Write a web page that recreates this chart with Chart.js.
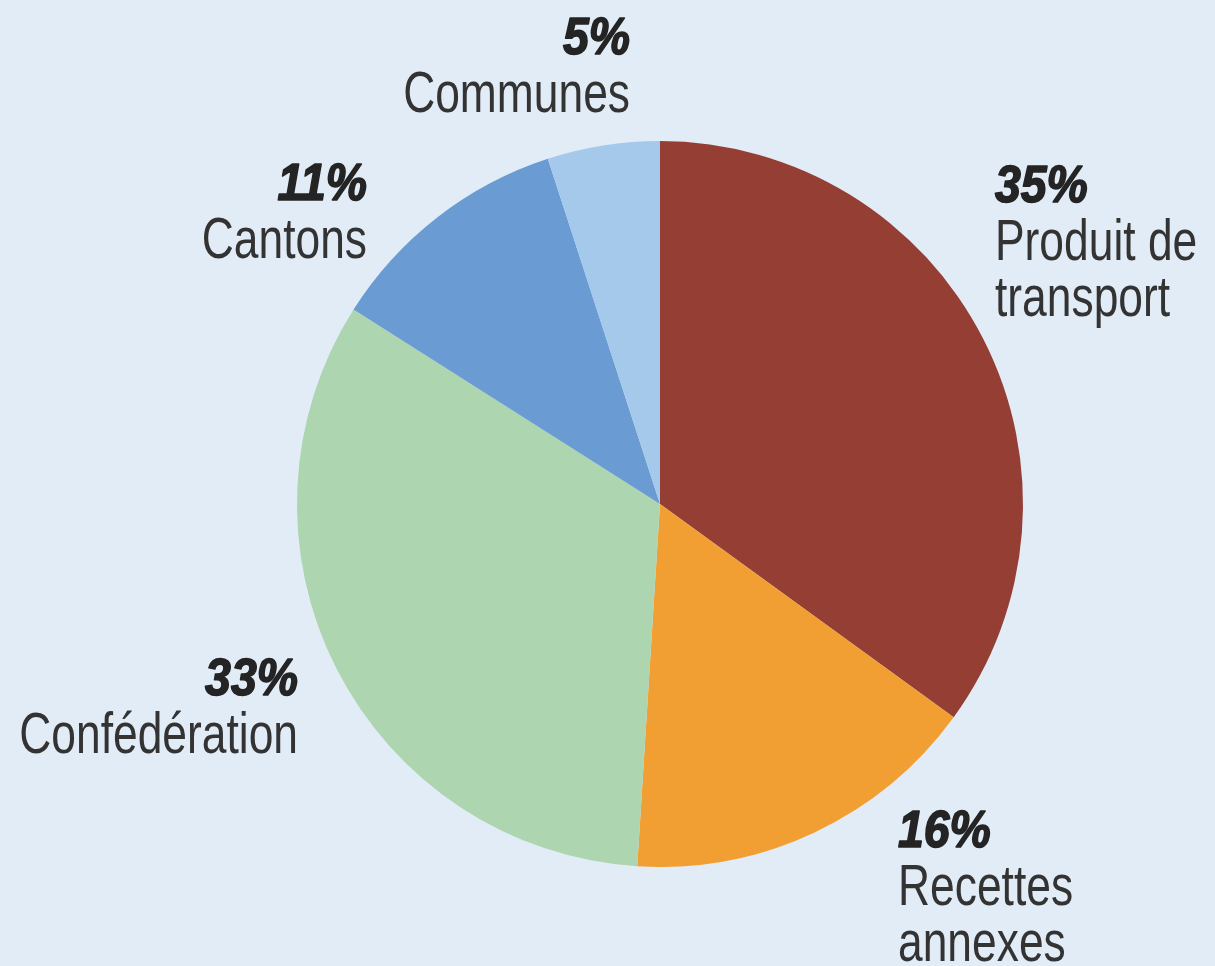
<!DOCTYPE html>
<html>
<head>
<meta charset="utf-8">
<script src="https://cdn.jsdelivr.net/npm/chart.js@4/dist/chart.umd.min.js"></script>
<style>
  html, body { margin: 0; padding: 0; background: #e2ecf7; }
  #wrap { width: 1215px; height: 966px; position: relative; }
</style>
</head>
<body>
<div id="wrap"><canvas id="pie-chart"></canvas></div>
<script>
// données
var categories = ["Produit de\ntransport", "Recettes\nannexes", "Confédération", "Cantons", "Communes"];
var values = [35, 16, 33, 11, 5];
var colors = ["#943e34", "#f19f33", "#acd5b0", "#6b9bd3", "#a4c9eb"];

// position des étiquettes par rapport au centre du camembert
var labelPos = [
    { dx: 335, dy: -302, align: "left" },
    { dx: 238, dy: 343, align: "left" },
    { dx: -362, dy: 191, align: "right" },
    { dx: -293, dy: -304, align: "right" },
    { dx: -30, dy: -450, align: "right" }
];

function drawScaled(c, text, x, y, sx, stroke) {
    c.save();
    c.translate(x, y);
    c.scale(sx, 1);
    if (stroke) c.strokeText(text, 0, 0);
    c.fillText(text, 0, 0);
    c.restore();
}

var labelPlugin = {
    id: "outerLabels",
    afterDraw: function (chart) {
        var c = chart.ctx;
        var arc = chart.getDatasetMeta(0).data[0];
        var cx = arc.x, cy = arc.y;
        c.save();
        c.textBaseline = "alphabetic";
        for (var i = 0; i < values.length; i++) {
            var p = labelPos[i];
            var x = cx + p.dx, y = cy + p.dy;
            c.textAlign = p.align;
            // pourcentage
            c.fillStyle = "#242424";
            c.strokeStyle = "#242424";
            c.lineWidth = 1.6;
            c.lineJoin = "round";
            c.font = "italic bold 51px 'Liberation Sans', Arial, sans-serif";
            drawScaled(c, values[i] + "%", x, y, 0.91, true);
            // nom
            c.fillStyle = "#333333";
            c.font = "58px 'Liberation Sans', Arial, sans-serif";
            var lines = categories[i].split("\n");
            for (var j = 0; j < lines.length; j++) {
                drawScaled(c, lines[j], x, y + 58 + j * 56, 0.765, false);
            }
        }
        c.restore();
    }
};

var pie = new Chart(document.getElementById("pie-chart"), {
    type: "pie",
    data: {
        labels: categories,
        datasets: [{
            data: values,
            backgroundColor: colors,
            borderWidth: 0
        }]
    },
    options: {
        responsive: true,
        maintainAspectRatio: false,
        animation: false,
        layout: { padding: { top: 141, bottom: 99, left: 297, right: 192 } },
        plugins: {
            legend: { display: false },
            tooltip: { enabled: false }
        }
    },
    plugins: [labelPlugin]
});
</script>
</body>
</html>
